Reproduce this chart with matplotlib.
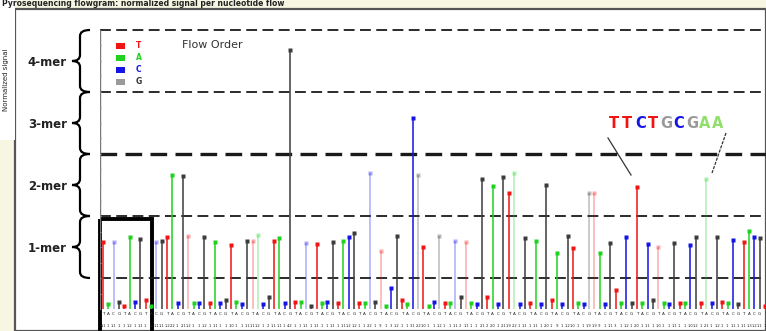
import matplotlib
matplotlib.use("Agg")
import matplotlib.pyplot as plt
from matplotlib.path import Path
from matplotlib.patches import PathPatch, Rectangle
import numpy as np

# ---------------- data ----------------
flow_order = ["T", "A", "C", "G"]
signal = [
    1.08, 0.08, 1.08, 0.12, 0.05, 1.16, 0.12, 1.13, 0.15, 0.05,
    1.08, 1.10, 1.16, 2.16, 0.10, 2.15, 1.18, 0.10, 0.10, 1.16,
    0.10, 1.08, 0.10, 0.15, 1.03, 0.12, 0.08, 1.10, 1.10, 1.19,
    0.08, 0.20, 1.10, 1.15, 0.10, 4.18, 0.12, 0.12, 1.06, 0.05,
    1.05, 0.10, 0.12, 1.08, 0.10, 1.10, 1.16, 1.23, 0.10, 0.10,
    2.20, 0.12, 0.94, 0.05, 0.34, 1.18, 0.15, 0.08, 3.08, 2.16,
    1.00, 0.05, 0.12, 1.18, 0.10, 0.10, 1.10, 0.20, 1.08, 0.10,
    0.08, 2.10, 0.20, 1.98, 0.08, 2.13, 1.87, 2.20, 0.08, 1.14,
    0.10, 1.10, 0.08, 2.00, 0.15, 0.90, 0.08, 1.18, 0.98, 0.10,
    0.08, 1.87, 1.87, 0.90, 0.08, 1.06, 0.30, 0.10, 1.16, 0.10,
    1.97, 0.10, 1.05, 0.15, 1.00, 0.10, 0.08, 1.06, 0.10, 0.10,
    1.03, 1.16, 0.10, 2.10, 0.10, 1.16, 0.12, 0.10, 1.11, 0.08,
    1.08, 1.26, 1.16, 1.14, 0.05,
]
pale_flows = [2, 10, 16, 28, 29, 38, 50, 52, 59, 63, 66, 68, 77, 91, 92, 104, 113]
mer_labels = ["1-mer", "2-mer", "3-mer", "4-mer"]
annot_seq = "TTCTGCGAA"
annot_targets = [100, 113]

base_colors = {"T": "#f01414", "A": "#1ed21e", "C": "#1414e6", "G": "#3c3c3c"}
legend_colors = {"T": "#f01414", "A": "#1ed21e", "C": "#1414e6", "G": "#9a9a9a"}
annot_colors = {"T": "#f01414", "C": "#1414e6", "G": "#9a9a9a", "A": "#8ee06a"}

W, H = 766, 331
fig = plt.figure(figsize=(W / 100, H / 100), dpi=100)
fig.patch.set_facecolor("#f6f6e2")

# overlay in pixel coordinates
ov = fig.add_axes([0, 0, 1, 1], zorder=0)
ov.set_xlim(0, W)
ov.set_ylim(H, 0)
ov.axis("off")
ov.add_patch(Rectangle((15, 9), W - 15, H - 9, facecolor="white",
                       edgecolor="#555555", lw=1.6))
ov.add_patch(Rectangle((0, 0), 15, 140, facecolor="white", edgecolor="none"))
ov.text(2, 4, "Pyrosequencing flowgram: normalized signal per nucleotide flow",
        fontsize=5.5, color="#222222", va="center", ha="left", weight="bold")
ov.text(6, 80, "Normalized signal", fontsize=5, rotation=90, color="#222222",
        va="center", ha="center")

# main axes
ax = fig.add_axes([100 / W, 0, 666 / W, 321 / H], zorder=2)
ax.patch.set_alpha(0)
n = len(signal)
x = np.arange(n)
ax.set_xlim(-0.562, 124.16)
ax.set_ylim(-22 / 62, 299 / 62)
for s in ax.spines.values():
    s.set_visible(False)
ax.set_xticks([])
ax.set_yticks([])

# dashed level lines
for lvl in [0.5, 1.5, 2.5, 3.5, 4.5]:
    ax.axhline(lvl, color="#1a1a1a", lw=2.4 if lvl == 2.5 else 1.3,
               dashes=(5, 2.5) if lvl == 2.5 else (6, 3), zorder=1)
ax.plot([-0.56, -0.56], [0, 4.5], color="#777777", lw=1.0, zorder=1)
for t in np.arange(0.25, 4.5, 0.25):
    ax.plot([-0.56, -0.3], [t, t], color="#999999", lw=0.5, zorder=1)

# stems
for i, v in enumerate(signal):
    b = flow_order[i % 4]
    alpha = 0.35 if i in pale_flows else 1.0
    ax.vlines(i, 0, v, color=base_colors[b], lw=1.1, alpha=alpha, zorder=3)
    ax.plot(i, v, marker="s", ms=2.2, color=base_colors[b], mec="none",
            alpha=alpha, zorder=4)

# flow labels (tiny)
for i, v in enumerate(signal):
    b = flow_order[i % 4]
    ax.text(i, -0.05, b, fontsize=3, ha="center", va="top", color="#222222")
    ax.text(i, -0.24, f"{v:.1f}".lstrip("0"), fontsize=2.6, ha="center",
            va="top", color="#222222")

# braces
def brace(y0, y1):
    xs, xt, xp, r = 80, 90, 72, 6
    ym = (y0 + y1) / 2
    verts = [(xt, y0), (xs, y0), (xs, y0 + r), (xs, ym - r), (xs, ym), (xp, ym),
             (xs, ym), (xs, ym + r), (xs, y1 - r), (xs, y1), (xt, y1)]
    codes = [Path.MOVETO, Path.CURVE3, Path.CURVE3, Path.LINETO, Path.CURVE3,
             Path.CURVE3, Path.CURVE3, Path.CURVE3, Path.LINETO, Path.CURVE3,
             Path.CURVE3]
    ov.add_patch(PathPatch(Path(verts, codes), facecolor="none",
                           edgecolor="black", lw=1.6))

def ypix(v):
    return 309 - 62 * v

for k, lab in enumerate(mer_labels):
    y0, y1 = ypix(k + 1.5), ypix(k + 0.5)
    brace(y0, y1)
    ov.text(67, (y0 + y1) / 2 + 1, lab, fontsize=8.5, weight="bold",
            ha="right", va="center", color="#222222")

# legend
for k, b in enumerate(flow_order):
    yy = 46 + 12 * k
    ov.add_patch(Rectangle((116, yy - 3), 9, 6, facecolor=legend_colors[b],
                           edgecolor="none", zorder=5))
    ov.text(136, yy, b, fontsize=5.5, weight="bold", color=base_colors[b]
            if b != "G" else "#333333", ha="left", va="center", zorder=5)
ov.text(182, 45, "Flow Order", fontsize=8, color="#333333", ha="left",
        va="center", zorder=5)

# annotation sequence
ax_fig = ov
xstart = 609
for k, ch in enumerate(annot_seq):
    t = ov.text(xstart + k * 12.9, 123, ch, fontsize=10.5, weight="bold",
                color=annot_colors[ch], ha="left", va="center", zorder=5)
ov.plot([608, 631], [138, 175], color="#333333", lw=0.9, zorder=5)
ov.plot([726, 712], [133, 173], color="#333333", lw=0.9, dashes=(2.5, 1),
        zorder=5)

# highlight box
ov.add_patch(Rectangle((100, 219), 52, 120, facecolor="none",
                       edgecolor="black", lw=2.8, zorder=6))

fig.savefig("out.png", dpi=100)
